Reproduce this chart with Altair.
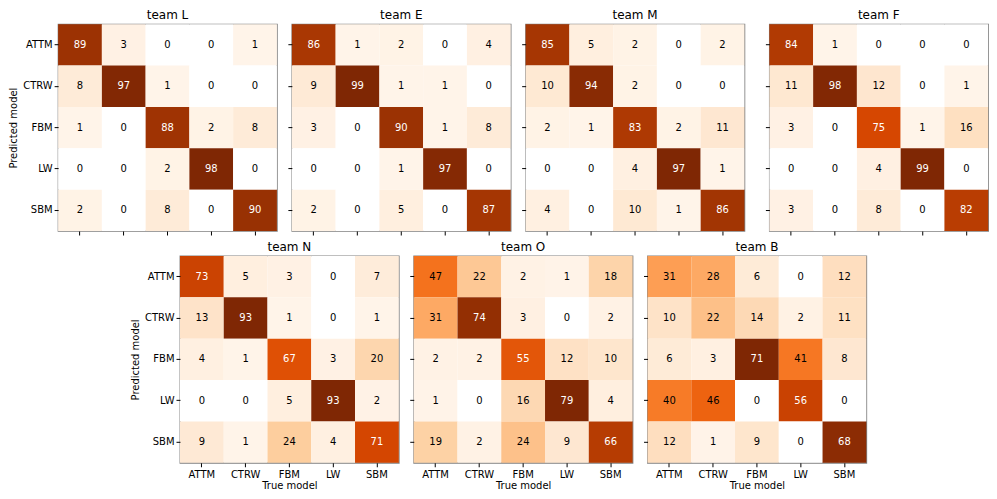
import altair as alt
import pandas as pd

labels = ["ATTM", "CTRW", "FBM", "LW", "SBM"]
teams = ["team L", "team E", "team M", "team F", "team N", "team O", "team B"]

# rows = predicted model, columns = true model (percent)
team_L = [[89, 3, 0, 0, 1], [8, 97, 1, 0, 0], [1, 0, 88, 2, 8], [0, 0, 2, 98, 0], [2, 0, 8, 0, 90]]
team_E = [[86, 1, 2, 0, 4], [9, 99, 1, 1, 0], [3, 0, 90, 1, 8], [0, 0, 1, 97, 0], [2, 0, 5, 0, 87]]
team_M = [[85, 5, 2, 0, 2], [10, 94, 2, 0, 0], [2, 1, 83, 2, 11], [0, 0, 4, 97, 1], [4, 0, 10, 1, 86]]
team_F = [[84, 1, 0, 0, 0], [11, 98, 12, 0, 1], [3, 0, 75, 1, 16], [0, 0, 4, 99, 0], [3, 0, 8, 0, 82]]
team_N = [[73, 5, 3, 0, 7], [13, 93, 1, 0, 1], [4, 1, 67, 3, 20], [0, 0, 5, 93, 2], [9, 1, 24, 4, 71]]
team_O = [[47, 22, 2, 1, 18], [31, 74, 3, 0, 2], [2, 2, 55, 12, 10], [1, 0, 16, 79, 4], [19, 2, 24, 9, 66]]
team_B = [[31, 28, 6, 0, 12], [10, 22, 14, 2, 11], [6, 3, 71, 41, 8], [40, 46, 0, 56, 0], [12, 1, 9, 0, 68]]

mats = [team_L, team_E, team_M, team_F, team_N, team_O, team_B]

oranges = ["#fff5eb", "#fee6ce", "#fdd0a2", "#fdae6b", "#fd8d3c",
           "#f16913", "#d94801", "#a63603", "#7f2704"]
stops = [i / 8 for i in range(9)]

FONT = "DejaVu Sans"
W, H = 219, 207


def panel(name, mat, first_col, bottom):
    rows = []
    for i, p in enumerate(labels):
        for j, t in enumerate(labels):
            rows.append({"pred": p, "true": t, "v": mat[i][j]})
    df = pd.DataFrame(rows)
    base = (
        alt.Chart(df)
        .transform_joinaggregate(mx="max(v)")
        .transform_calculate(norm="datum.v / datum.mx")
    )
    x = alt.X(
        "true:N", sort=labels,
        title="True model" if bottom else None,
        axis=alt.Axis(labels=bottom, ticks=True, domain=False, labelAngle=0,
                      tickSize=4, labelPadding=3, titlePadding=1),
    )
    y = alt.Y(
        "pred:N", sort=labels,
        title="Predicted model" if first_col else None,
        axis=alt.Axis(labels=first_col, ticks=True, domain=False,
                      tickSize=4, labelPadding=2, titlePadding=4),
    )
    rect = base.mark_rect().encode(
        x=x, y=y,
        color=alt.when(alt.datum.v == 0)
        .then(alt.value("white"))
        .otherwise(alt.Color("norm:Q", scale=alt.Scale(domain=stops, range=oranges,
                                                        interpolate="rgb"),
                             legend=None)),
    )
    text = base.mark_text(fontSize=10, font=FONT).encode(
        x=alt.X("true:N", sort=labels),
        y=alt.Y("pred:N", sort=labels),
        text=alt.Text("v:Q"),
        color=alt.when(alt.datum.norm > 0.68)
        .then(alt.value("white"))
        .otherwise(alt.value("black")),
    )
    return alt.layer(rect, text).properties(
        width=W, height=H,
        title=alt.TitleParams(name, fontSize=12, fontWeight="normal", font=FONT,
                              offset=2, color="black"),
    )


pL = panel(teams[0], mats[0], True, False)
pE = panel(teams[1], mats[1], False, False)
pM = panel(teams[2], mats[2], False, False)
pF = panel(teams[3], mats[3], False, False)
pN = panel(teams[4], mats[4], True, True)
pO = panel(teams[5], mats[5], False, True)
pB = panel(teams[6], mats[6], False, True)

top = alt.hconcat(alt.hconcat(pL, pE, pM, spacing=8), pF, spacing=18)
bottom = alt.hconcat(pN, pO, pB, spacing=8)

chart = (
    alt.vconcat(top, bottom, spacing=3, center=True)
    .properties(padding=0)
    .configure_view(stroke="#808080", strokeWidth=1.3)
    .configure_axis(labelFont=FONT, titleFont=FONT, labelFontSize=10, titleFontSize=10,
                    titleFontWeight="normal", labelColor="black", titleColor="black",
                    tickColor="black", grid=False)
    .configure_scale(bandPaddingInner=0, bandPaddingOuter=0)
)

chart.save("out.html", embed_options={"renderer": "svg", "actions": False})
